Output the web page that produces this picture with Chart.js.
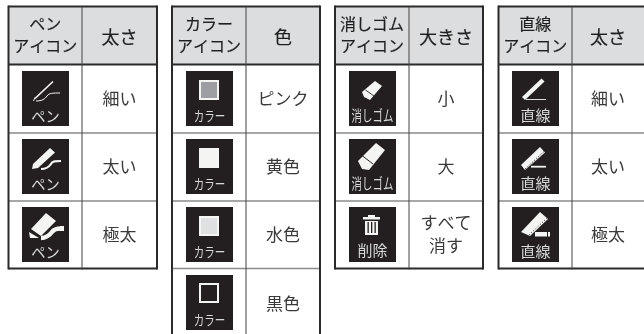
<!DOCTYPE html>
<html><head><meta charset="utf-8">
<style>html,body{margin:0;padding:0;background:#fff}#wrap{width:644px;height:334px;position:relative}canvas{display:block}</style>
<script src="https://cdn.jsdelivr.net/npm/chart.js@4"></script></head>
<body><div id="wrap"><canvas id="c" width="644" height="334"></canvas></div>
<script>
const penHeaders=[['ペン','アイコン'],['太さ']];
const colorHeaders=[['カラー','アイコン'],['色']];
const eraserHeaders=[['消しゴム','アイコン'],['大きさ']];
const lineHeaders=[['直線','アイコン'],['太さ']];
const penValues=[['細い'],['太い'],['極太']];
const colorValues=[['ピンク'],['黄色'],['水色'],['黒色']];
const eraserValues=[['小'],['大'],['すべて','消す']];
const lineValues=[['細い'],['太い'],['極太']];
const penIcons=['pen1','pen2','pen3'];
const colorIcons=['c1','c2','c3','c4'];
const eraserIcons=['e1','e2','t'];
const lineIcons=['l1','l2','l3'];
const iconCaptions={pen:'ペン',color:'カラー',eraser:'消しゴム',trash:'削除',line:'直線'};

const FONT='"Noto Sans CJK JP","Noto Sans",sans-serif';
const tables=[
 {x:[8.5,82,157],head:penHeaders,vals:penValues,icons:penIcons,ix:22},
 {x:[172,246,320],head:colorHeaders,vals:colorValues,icons:colorIcons,ix:186,open:true},
 {x:[335,409,483],head:eraserHeaders,vals:eraserValues,icons:eraserIcons,ix:349},
 {x:[498.5,572,650],head:lineHeaders,vals:lineValues,icons:lineIcons,ix:512,noRight:true}
];
const rowY=[6.5,64.5,133,201,268.5,340];
const iconY=[71,139,207,275];

const W='#f4f4f2',K='#231f20';
function poly(g,pts,fill){g.beginPath();pts.forEach((p,i)=>i?g.lineTo(p[0],p[1]):g.moveTo(p[0],p[1]));g.closePath();g.fillStyle=fill||W;g.fill();}
function line(g,pts,w,col,dash){g.save();g.setLineDash(dash||[]);g.beginPath();pts.forEach((p,i)=>i?g.lineTo(p[0],p[1]):g.moveTo(p[0],p[1]));g.lineWidth=w;g.strokeStyle=col||W;g.lineCap='butt';g.lineJoin='miter';g.stroke();g.restore();}
function curve(g,a,w){g.beginPath();g.moveTo(a[0],a[1]);g.bezierCurveTo(a[2],a[3],a[4],a[5],a[6],a[7]);g.bezierCurveTo(a[8],a[9],a[10],a[11],a[12],a[13]);g.lineWidth=w;g.strokeStyle=W;g.lineCap='butt';g.stroke();}
function cap(g,t,size,y,scaleX){g.save();g.translate(23.5,y);g.scale(scaleX||1,1);g.font='400 '+size+'px '+FONT;g.fillStyle='#d9d9d9';g.textAlign='center';g.textBaseline='middle';g.fillText(t,0,0);g.restore();}
const capColor=g=>cap(g,iconCaptions.color,14,44.5,.75);
const capEraser=g=>cap(g,iconCaptions.eraser,14.5,44.5,.72);
const capPen=g=>cap(g,iconCaptions.pen,15,45.5,.95);
const capLine=g=>cap(g,iconCaptions.line,15,44.5);
const draw={
 pen1(g){line(g,[[13,27.5],[31,10.5]],1.7);line(g,[[11.5,30],[13,26.5]],1);curve(g,[14,30,20,30,23,28,25,25,27,22,31,22,38,22],1);capPen(g);},
 pen2(g){poly(g,[[10,30],[11,25],[28,9],[33,13.5],[16,29]]);curve(g,[19,30,24,30,27,28,29,25,30,22,34,22,39,22],2.2);capPen(g);},
 pen3(g){poly(g,[[9,22],[24,6],[34,14],[19,29]]);poly(g,[[7,25],[17,31],[8,31]]);curve(g,[19,31,24,31,27,29,30,25,32,22,35,21.5,39,21.5],4.5);poly(g,[[38,19],[42,19],[42,24],[38,24]]);capPen(g);},
 c1(g){g.fillStyle=W;g.fillRect(13,9,20,20);g.fillStyle='#9c9ea1';g.fillRect(15,11,16,16);capColor(g);},
 c2(g){g.fillStyle=W;g.fillRect(13,9,20,20);capColor(g);},
 c3(g){g.fillStyle=W;g.fillRect(13,9,20,20);g.fillStyle='#dfe0e1';g.fillRect(15,11,16,16);capColor(g);},
 c4(g){g.fillStyle=W;g.fillRect(13,8,20,20);g.fillStyle=K;g.fillRect(15,10,16,16);capColor(g);},
 e1(g){poly(g,[[13,21],[26,10],[33,15],[21,29],[15,26]]);line(g,[[16.5,19],[25,25]],.9,K);capEraser(g);},
 e2(g){poly(g,[[9,22],[27,4],[36,11],[20,31],[13,30]]);line(g,[[13,16.5],[24,25]],1,K);capEraser(g);},
 t(g){g.fillStyle=W;g.fillRect(14,10,17,2.5);g.fillRect(19,8,7,2);g.fillRect(16,14,13,14);g.fillStyle=K;[18.5,22,25.5].forEach(x=>g.fillRect(x,15,1.3,11));cap(g,iconCaptions.trash,15,43.5);},
 l1(g){poly(g,[[10,26],[29.5,7.5],[32.5,10.5],[13,29]]);line(g,[[14,28.5],[34,28.5]],.9);capLine(g);},
 l2(g){poly(g,[[9,26],[28,8],[33,13.5],[13,31]]);line(g,[[13,30],[32,12.5]],1,K,[1,1.5]);line(g,[[19,27.7],[34,27.7]],1.8);capLine(g);},
 l3(g){poly(g,[[9,25],[28,5],[36,12],[18,29]]);line(g,[[17,28],[35,11]],1,K,[1,2]);g.fillStyle=W;g.fillRect(23,25,12,4.5);g.fillRect(36,25,2,4.5);capLine(g);}
};

const tablePlugin={id:'tables',afterDatasetsDraw(chart){
 const g=chart.ctx,sx=chart.scales.x,sy=chart.scales.y;
 const X=v=>sx.getPixelForValue(v),Y=v=>sy.getPixelForValue(v);
 const text=(lines,cx,cy,size,col,lh,bold)=>{g.font='400 '+size+'px '+FONT;g.fillStyle=col;g.textAlign='center';g.textBaseline='middle';
   lines.forEach((t,i)=>{const yy=cy+(i-(lines.length-1)/2)*lh;g.fillText(t,cx,yy);if(bold){g.lineWidth=bold;g.strokeStyle=col;g.strokeText(t,cx,yy);}});};
 g.save();
 tables.forEach(t=>{
  const [a,b,c]=t.x,n=t.vals.length;
  g.fillStyle='#dcddde';g.fillRect(X(a),Y(rowY[0]),X(c)-X(a),Y(rowY[1])-Y(rowY[0]));
  for(let i=2;i<=n;i++){g.fillStyle='#8a8b8c';g.fillRect(X(a),Y(rowY[i])-.75,X(c)-X(a),1.5);}
  g.fillStyle='#2b2b2b';
  g.fillRect(X(a),Y(rowY[0])-1,X(c)-X(a),2);
  g.fillRect(X(a),Y(rowY[1])-1,X(c)-X(a),2);
  if(!t.open)g.fillRect(X(a),Y(rowY[n+1])-1,X(c)-X(a),2);
  const endY=t.open?334:Y(rowY[n+1])+1;
  g.fillRect(X(a)-1,Y(rowY[0])-1,2,endY-Y(rowY[0])+1);
  if(!t.noRight)g.fillRect(X(c)-1,Y(rowY[0])-1,2,endY-Y(rowY[0])+1);
  g.fillStyle='#444';g.fillRect(X(b)-.5,Y(rowY[0]),1,endY-Y(rowY[0]));
  const c1=(a+b)/2,rc=t.noRight?608:(b+c)/2;
  text(t.head[0],X(c1),Y(35),16,'#1f1f1f',21.5,.2);
  text(t.head[1],X(rc),Y(37),18,'#1f1f1f',21,.2);
  t.vals.forEach((v,i)=>{
   text(v,X(rc),Y((rowY[i+1]+rowY[i+2])/2-.5),17,'#3a3a3a',23);
   g.save();g.translate(X(t.ix),Y(iconY[i]));
   g.fillStyle=K;g.fillRect(0,0,47,55);
   draw[t.icons[i]](g);
   g.restore();
  });
 });
 g.restore();
}};

new Chart(document.getElementById('c'),{
 type:'scatter',
 data:{datasets:[{data:[],pointRadius:0}]},
 options:{responsive:false,animation:false,layout:{padding:0},
  plugins:{legend:{display:false},tooltip:{enabled:false}},
  scales:{x:{type:'linear',min:0,max:644,display:false},y:{type:'linear',min:0,max:334,reverse:true,display:false}}},
 plugins:[tablePlugin]
});
</script></body></html>
